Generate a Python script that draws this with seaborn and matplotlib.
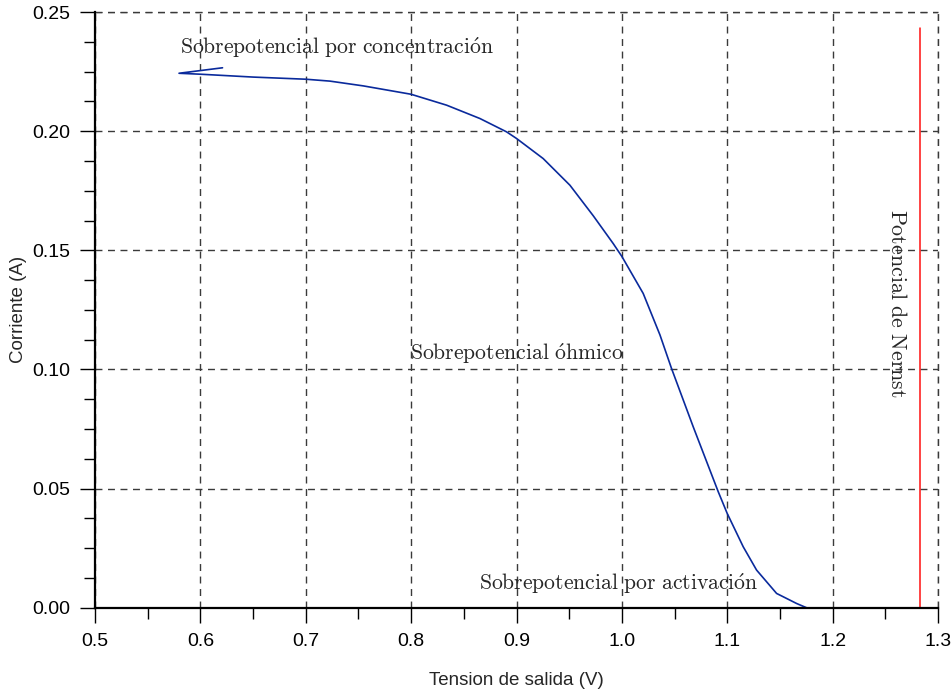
import matplotlib
matplotlib.use("Agg")
import matplotlib.pyplot as plt
import seaborn as sns
import pandas as pd
from matplotlib.ticker import AutoMinorLocator

# Polarization curve of the fuel cell: output voltage (V) vs current (A)
tension = [0.621, 0.5797, 0.600, 0.650, 0.700, 0.723, 0.7546, 0.7998,
           0.8337, 0.8653, 0.8906, 0.9001, 0.9253, 0.9507, 0.9728, 0.9918,
           1.000, 1.0202, 1.0361, 1.0471, 1.0677, 1.0914, 1.0999, 1.1151,
           1.1278, 1.1468, 1.1657, 1.1752]
corriente = [0.2266, 0.2243, 0.2239, 0.2227, 0.2218, 0.2210, 0.2190, 0.2155,
             0.2109, 0.2053, 0.1997, 0.1969, 0.1885, 0.1773, 0.1645, 0.1528,
             0.1474, 0.1319, 0.1145, 0.1004, 0.0759, 0.0487, 0.0396, 0.0256,
             0.0158, 0.0060, 0.0018, 0.0000]

# Nernst potential (vertical reference line)
nernst_v = 1.2827
nernst_top = 0.2435

# Region annotations: (text, x, y)
etiquetas = [
    (r"$\mathrm{Sobrepotencial\ por\ concentraci\acute{o}n}$", 0.5806, 0.2350),
    (r"$\mathrm{Sobrepotencial\ \acute{o}hmico}$", 0.7989, 0.1068),
    (r"$\mathrm{Sobrepotencial\ por\ activaci\acute{o}n}$", 0.8643, 0.0102),
]
etiqueta_nernst = (r"$\mathrm{Potencial\ de\ Nernst}$", 1.261, 0.1277)

x_ticks = [0.5, 0.6, 0.7, 0.8, 0.9, 1.0, 1.1, 1.2, 1.3]
y_ticks = [0.00, 0.05, 0.10, 0.15, 0.20, 0.25]

sns.set_style("white")
plt.rcParams["font.family"] = ["Liberation Sans", "DejaVu Sans"]
plt.rcParams["mathtext.fontset"] = "cm"

fig = plt.figure(figsize=(9.53, 6.91), dpi=100)
ax = fig.add_axes([0.0997, 0.1205, 0.8846, 0.8621])

df = pd.DataFrame({"Tension": tension, "Corriente": corriente})
sns.lineplot(data=df, x="Tension", y="Corriente", sort=False, estimator=None,
             color="#0a2a9c", linewidth=1.2, ax=ax)

ax.plot([nernst_v, nernst_v], [0, nernst_top], color="#ff1010", linewidth=1.1)

ax.set_xlim(0.5, 1.3)
ax.set_ylim(0.0, 0.25)
ax.set_xticks(x_ticks)
ax.set_xticklabels([f"{v:.1f}" for v in x_ticks])
ax.set_yticks(y_ticks)
ax.set_yticklabels([f"{v:.2f}" for v in y_ticks])
ax.xaxis.set_minor_locator(AutoMinorLocator(2))
ax.yaxis.set_minor_locator(AutoMinorLocator(4))

ax.tick_params(axis="both", which="major", direction="out", length=11,
               width=1.0, colors="black", labelsize=14, pad=7)
ax.tick_params(axis="both", which="minor", direction="out", length=8,
               width=1.0, colors="black")
ax.tick_params(left=True, bottom=True, which="both")

# Dashed grid
grid_style = dict(linestyle=(0, (5, 4)), color="#3a3a3a", linewidth=1.0)
ax.grid(True, which="major", **grid_style)
ax.set_axisbelow(True)

# Outer edges drawn as unclipped dashed lines so they are fully visible
ax.axvline(x_ticks[-1], clip_on=False, zorder=0.5, **grid_style)
ax.axhline(y_ticks[-1], clip_on=False, zorder=0.5, **grid_style)

for side in ("top", "right"):
    ax.spines[side].set_visible(False)
for side in ("left", "bottom"):
    ax.spines[side].set_color("black")
    ax.spines[side].set_linewidth(1.6)
    ax.spines[side].set_zorder(5)

ax.set_xlabel("Tension de salida (V)", fontsize=13.5)
ax.set_ylabel("Corriente (A)", fontsize=13.5)
ax.xaxis.label.set_va("center")
ax.yaxis.label.set_va("center")
ax.yaxis.label.set_ha("center")
ax.xaxis.set_label_coords(0.5, -0.1214)
ax.yaxis.set_label_coords(-0.0913, 0.5)

for texto, x, y in etiquetas:
    ax.text(x, y, texto, fontsize=15.6, color="#262626",
            ha="left", va="center")
ax.text(etiqueta_nernst[1], etiqueta_nernst[2], etiqueta_nernst[0],
        fontsize=15.8, color="#262626", rotation=-90,
        ha="center", va="center")

fig.savefig("out.png", dpi=100)
